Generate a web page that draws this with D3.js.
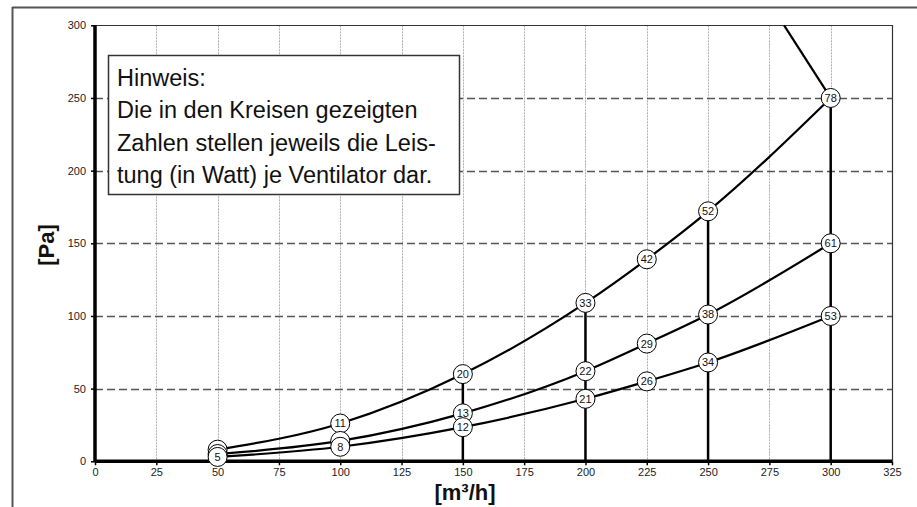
<!DOCTYPE html>
<html><head><meta charset="utf-8">
<script src="https://cdn.jsdelivr.net/npm/d3@7"></script>
<style>body{margin:0;background:#fff}svg{display:block}text{font-family:"Liberation Sans",Arial,sans-serif}</style>
</head><body><svg id="c" width="917" height="507"></svg>
<script>
const flows = [50, 100, 150, 200, 225, 250, 300];
const pressureHigh = [8, 26, 60, 109, 139, 172, 250];
const pressureMid = [5, 14, 33, 62, 81, 101, 150];
const pressureLow = [3, 10, 23.5, 43, 55, 68, 100];
const powerHigh = ["", "11", "20", "33", "42", "52", "78"];
const powerMid = ["", "", "13", "22", "29", "38", "61"];
const powerLow = ["5", "8", "12", "21", "26", "34", "53"];
const limitFlow = [281, 300];
const limitPressure = [300, 250];
const dropFlows = [150, 200, 250, 300];
const dropPressures = [60, 109, 172, 250];
const xTicks = [0, 25, 50, 75, 100, 125, 150, 175, 200, 225, 250, 275, 300, 325];
const yTicks = [0, 50, 100, 150, 200, 250, 300];
const noteLines = ["Hinweis:", "Die in den Kreisen gezeigten", "Zahlen stellen jeweils die Leis-", "tung (in Watt) je Ventilator dar."];
const xTitle = "[m³/h]";
const yTitle = "[Pa]";

const svg = d3.select("#c");
const x = d3.scaleLinear().domain([0, 325]).range([95, 892]);
const y = d3.scaleLinear().domain([0, 300]).range([461.3, 25.3]);

// outer frame
svg.append("line").attr("x1", 12).attr("x2", 917).attr("y1", 7.5).attr("y2", 7.5).attr("stroke", "#555").attr("stroke-width", 2);
svg.append("line").attr("x1", 12.5).attr("x2", 12.5).attr("y1", 7).attr("y2", 507).attr("stroke", "#555").attr("stroke-width", 2);

// vertical dotted grid
svg.append("g").selectAll("line").data(xTicks.filter(d => d > 0 && d < 325)).join("line")
  .attr("x1", d => Math.round(x(d)) + 0.5).attr("x2", d => Math.round(x(d)) + 0.5)
  .attr("y1", y(300)).attr("y2", y(0))
  .attr("stroke", "#b0b0b0").attr("stroke-width", 1).attr("stroke-dasharray", "2,1");

// horizontal dashed grid
svg.append("g").selectAll("line").data(yTicks.filter(d => d > 0 && d < 300)).join("line")
  .attr("x1", x(0)).attr("x2", x(325))
  .attr("y1", d => Math.round(y(d)) + 0.5).attr("y2", d => Math.round(y(d)) + 0.5)
  .attr("stroke", "#555").attr("stroke-width", 1.3).attr("stroke-dasharray", "8,4");

// plot border top/right
svg.append("path").attr("d", `M${x(0)},${Math.round(y(300))+0.5}H${Math.round(x(325))+0.5}V${y(0)}`)
  .attr("fill", "none").attr("stroke", "#333").attr("stroke-width", 1.2);

// note box
const box = svg.append("g");
box.append("rect").attr("x", 108.5).attr("y", 55.5).attr("width", 351).attr("height", 139)
  .attr("fill", "#fff").attr("stroke", "#333").attr("stroke-width", 1.5);
box.selectAll("text").data(noteLines).join("text")
  .attr("x", 117).attr("y", (d, i) => 86 + i * 32.3)
  .attr("font-size", 23.5).attr("fill", "#111").text(d => d);

// axes
const xAxis = svg.append("g").attr("transform", `translate(0,${y(0)})`)
  .call(d3.axisBottom(x).tickValues(xTicks).tickSize(4).tickPadding(3).tickFormat(d3.format("d")));
const yAxis = svg.append("g").attr("transform", `translate(${x(0)},0)`)
  .call(d3.axisLeft(y).tickValues(yTicks).tickSize(4).tickPadding(5).tickFormat(d3.format("d")));
[xAxis, yAxis].forEach(a => {
  a.select(".domain").attr("stroke", "#000").attr("stroke-width", 3.5);
  a.selectAll(".tick line").attr("stroke", "#000").attr("stroke-width", 1.5);
  a.selectAll(".tick text").attr("font-size", 11).attr("fill", "#222").attr("font-family", "Liberation Sans, Arial, sans-serif");
});
yAxis.select(".domain").attr("d", `M0,${y(300)}V${y(0)}`);
xAxis.select(".domain").attr("d", `M${x(0)},0H${x(325)}`);

// titles
svg.append("text").attr("x", 465).attr("y", 500).attr("text-anchor", "middle")
  .attr("font-size", 22).attr("font-weight", "bold").attr("fill", "#111").text(xTitle);
svg.append("text").attr("transform", "translate(54,245) rotate(-90)").attr("text-anchor", "middle")
  .attr("font-size", 22).attr("font-weight", "bold").attr("fill", "#111").text(yTitle);

// vertical drop lines
svg.append("g").selectAll("line").data(dropFlows).join("line")
  .attr("x1", d => x(d)).attr("x2", d => x(d))
  .attr("y1", y(0)).attr("y2", (d, i) => y(dropPressures[i]))
  .attr("stroke", "#000").attr("stroke-width", 2.5);

// curves
const series = [
  {p: pressureHigh, w: powerHigh},
  {p: pressureMid, w: powerMid},
  {p: pressureLow, w: powerLow}
];
const line = d3.line().x(d => x(d[0])).y(d => y(d[1])).curve(d3.curveMonotoneX);
series.forEach(s => {
  svg.append("path").attr("d", line(flows.map((f, i) => [f, s.p[i]])))
    .attr("fill", "none").attr("stroke", "#000").attr("stroke-width", 2.2);
});
svg.append("path").attr("d", d3.line().x(d => x(d[0])).y(d => y(d[1]))(limitFlow.map((f, i) => [f, limitPressure[i]])))
  .attr("fill", "none").attr("stroke", "#000").attr("stroke-width", 2.2);

// circles
series.forEach(s => {
  const g = svg.append("g");
  flows.forEach((f, i) => {
    const c = g.append("g").attr("transform", `translate(${x(f)},${y(s.p[i])})`);
    c.append("circle").attr("r", 9.5).attr("fill", "#fff").attr("stroke", "#000").attr("stroke-width", 1);
    c.append("text").attr("text-anchor", "middle").attr("dy", "0.36em").attr("font-size", 11)
      .attr("fill", "#111").text(s.w[i]);
  });
});
</script></body></html>
